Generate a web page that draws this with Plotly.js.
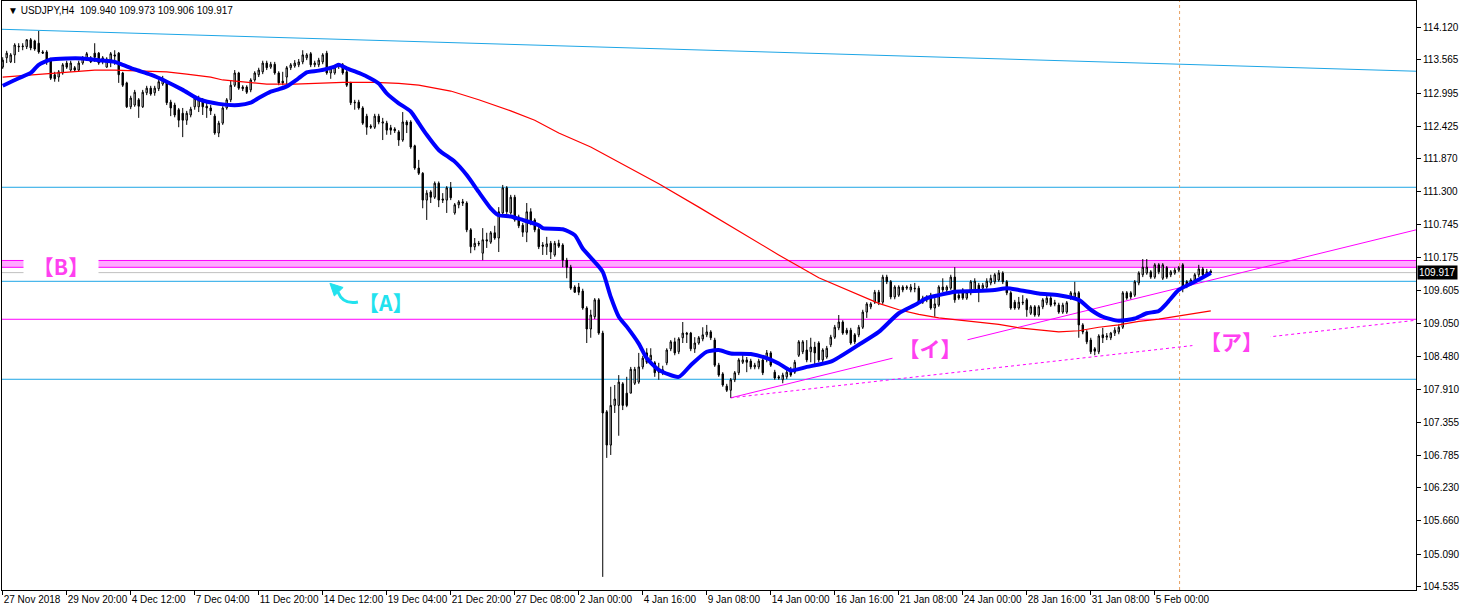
<!DOCTYPE html>
<html><head><meta charset="utf-8">
<script src="https://cdn.plot.ly/plotly-3.0.1.min.js"></script>
<style>html,body{margin:0;padding:0;background:#fff;}#chart{width:1462px;height:611px;}</style>
</head><body><div id="chart"></div>
<script>
// ---- time axis labels (every 16 H4 bars) ----
const timeLabels = ['27 Nov 2018','29 Nov 20:00','4 Dec 12:00','7 Dec 04:00','11 Dec 20:00','14 Dec 12:00','19 Dec 04:00','21 Dec 20:00','27 Dec 08:00','2 Jan 00:00','4 Jan 16:00','9 Jan 08:00','14 Jan 00:00','16 Jan 16:00','21 Jan 08:00','24 Jan 00:00','28 Jan 16:00','31 Jan 08:00','5 Feb 00:00'];
const barsPerLabel = 16;

// ---- USDJPY H4 OHLC ----
const priceOpen = [
113.44,113.60,113.53,113.65,113.80,113.79,113.79,113.91,113.89,113.85,
113.70,113.70,113.56,113.31,113.27,113.34,113.51,113.39,113.43,113.39,
113.51,113.60,113.60,113.68,113.68,113.53,113.44,113.56,113.65,113.68,
113.34,113.17,112.76,112.79,112.88,112.76,113.00,113.08,113.00,113.07,
113.15,113.17,112.84,112.79,112.71,112.65,112.53,112.62,112.76,112.76,
112.88,112.77,112.74,112.60,112.31,112.48,112.74,112.88,113.13,113.34,
113.10,113.10,113.05,113.22,113.31,113.36,113.51,113.44,113.49,113.34,
113.20,113.27,113.43,113.46,113.48,113.53,113.60,113.67,113.48,113.48,
113.53,113.68,113.34,113.34,113.46,113.48,113.36,113.17,112.84,112.84,
112.74,112.60,112.43,112.41,112.60,112.48,112.48,112.40,112.38,112.33,
112.19,112.50,112.50,112.09,111.71,111.62,111.16,111.30,111.21,111.45,
111.18,111.16,111.37,110.94,111.08,111.13,111.11,110.65,110.36,110.42,
110.25,110.48,110.44,110.60,110.51,110.94,111.37,110.94,111.21,110.87,
110.73,110.61,110.96,110.82,110.66,110.39,110.36,110.42,110.22,110.42,
110.39,110.13,110.01,109.67,109.67,109.60,109.31,108.95,109.16,109.45,
108.88,107.53,106.96,107.64,107.64,108.01,107.85,107.85,108.02,108.04,
108.30,108.54,108.42,108.37,108.23,108.21,108.37,108.61,108.73,108.56,
108.80,108.88,108.88,108.61,108.71,108.78,108.85,108.90,108.76,108.33,
108.18,107.97,107.90,108.08,108.20,108.38,108.42,108.40,108.30,108.30,
108.42,108.42,108.54,108.21,108.13,108.08,108.13,108.26,108.21,108.50,
108.56,108.59,108.56,108.64,108.71,108.42,108.47,108.68,108.81,108.97,
109.07,108.93,108.93,108.85,108.85,108.98,109.24,109.33,109.41,109.58,
109.41,109.84,109.76,109.50,109.53,109.67,109.65,109.62,109.65,109.65,
109.41,109.45,109.53,109.31,109.36,109.67,109.62,109.65,109.84,109.53,
109.62,109.48,109.57,109.62,109.70,109.65,109.67,109.74,109.76,109.79,
109.91,109.76,109.57,109.41,109.31,109.41,109.45,109.22,109.33,109.19,
109.33,109.40,109.48,109.40,109.36,109.24,109.24,109.48,109.50,109.57,
109.02,108.90,108.76,108.61,108.56,108.85,108.81,108.80,108.88,108.90,
108.98,109.57,109.57,109.53,109.74,109.88,109.91,109.93,109.84,110.05,
109.82,110.00,109.88,109.91,109.96,110.05,109.76,109.74,109.79,109.88,
109.98,109.89,109.940];
const priceHigh = [
113.61,113.72,113.68,113.85,113.85,113.85,113.92,113.94,113.91,114.06,
113.73,113.73,113.60,113.36,113.39,113.51,113.55,113.55,113.46,113.55,
113.63,113.70,113.63,113.85,113.70,113.63,113.61,113.70,113.73,113.70,
113.36,113.19,112.95,113.05,112.91,113.05,113.12,113.12,113.12,113.22,
113.29,113.20,112.88,112.83,112.74,112.74,112.69,112.76,112.95,112.95,
112.91,112.84,112.79,112.64,112.52,112.77,112.91,113.22,113.39,113.36,
113.13,113.13,113.25,113.37,113.43,113.55,113.55,113.53,113.53,113.37,
113.36,113.46,113.51,113.56,113.58,113.73,113.68,113.70,113.55,113.60,
113.68,113.72,113.46,113.48,113.51,113.51,113.39,113.19,112.88,112.88,
112.77,112.64,112.46,112.64,112.64,112.57,112.52,112.45,112.41,112.36,
112.67,112.53,112.53,112.11,111.85,111.64,111.33,111.33,111.48,111.48,
111.28,111.40,111.47,111.11,111.16,111.18,111.14,110.68,110.51,110.46,
110.68,110.60,110.63,110.72,111.04,111.42,111.40,111.25,111.25,110.91,
110.77,111.11,111.02,110.85,110.70,110.44,110.53,110.46,110.46,110.48,
110.42,110.17,110.05,109.70,109.74,109.64,109.34,109.28,109.48,109.48,
108.92,107.56,107.96,107.99,108.16,108.04,108.13,108.30,108.30,108.54,
108.49,108.62,108.62,108.40,108.37,108.32,108.62,108.76,108.80,108.81,
109.07,108.90,108.90,108.81,108.83,108.98,109.02,108.93,108.80,108.37,
108.21,108.01,108.11,108.23,108.45,108.54,108.47,108.44,108.37,108.44,
108.45,108.59,108.57,108.25,108.16,108.20,108.25,108.30,108.42,108.76,
108.76,108.76,108.80,108.73,108.74,108.62,108.66,108.85,109.02,109.19,
109.10,108.97,108.97,108.88,109.02,109.28,109.41,109.41,109.62,109.62,
109.88,109.88,109.79,109.70,109.70,109.70,109.70,109.72,109.74,109.69,
109.52,109.53,109.57,109.48,109.70,109.82,109.70,109.88,110.01,109.57,
109.65,109.62,109.79,109.82,109.74,109.74,109.82,109.88,109.91,109.96,
109.94,109.79,109.60,109.45,109.50,109.53,109.48,109.36,109.36,109.36,
109.48,109.53,109.52,109.45,109.40,109.40,109.43,109.60,109.76,109.60,
109.05,108.93,108.80,108.64,108.86,108.97,108.88,108.90,108.98,109.03,
109.60,109.60,109.60,109.79,109.94,110.15,110.15,109.96,110.08,110.08,
110.08,110.03,109.96,110.00,110.03,110.08,109.79,109.82,109.91,110.05,
110.01,109.98,109.973];
const priceLow = [
113.41,113.51,113.51,113.51,113.70,113.73,113.75,113.73,113.72,113.67,
113.67,113.48,113.22,113.19,113.19,113.31,113.41,113.36,113.36,113.36,
113.48,113.56,113.51,113.53,113.48,113.49,113.43,113.44,113.48,113.17,
113.10,112.74,112.72,112.76,112.57,112.74,112.96,112.95,112.95,113.03,
113.12,112.79,112.60,112.58,112.41,112.24,112.45,112.58,112.71,112.67,
112.62,112.57,112.62,112.28,112.24,112.45,112.71,112.84,113.10,113.05,
113.03,112.98,113.01,113.19,113.27,113.32,113.39,113.41,113.31,113.13,
113.13,113.15,113.39,113.43,113.44,113.49,113.56,113.44,113.44,113.44,
113.49,113.31,113.24,113.31,113.41,113.31,113.10,112.79,112.71,112.71,
112.45,112.28,112.38,112.38,112.46,112.19,112.28,112.28,112.31,112.09,
112.16,112.31,112.04,111.68,111.59,111.02,110.82,111.11,111.18,111.04,
111.11,110.94,111.16,110.91,111.02,111.06,110.61,110.25,110.30,110.37,
110.13,110.34,110.41,110.48,110.27,110.91,110.92,110.91,110.79,110.68,
110.53,110.44,110.73,110.61,110.32,110.22,110.22,110.15,110.19,110.34,
110.01,109.82,109.62,109.57,109.53,109.28,108.71,108.80,109.12,108.85,
104.70,106.74,106.79,107.51,107.12,107.56,107.61,107.85,107.99,108.01,
108.26,108.35,108.38,108.13,108.08,108.16,108.33,108.57,108.50,108.52,
108.71,108.71,108.57,108.54,108.68,108.74,108.81,108.76,108.30,108.13,
107.96,107.87,107.77,108.04,108.16,108.35,108.21,108.26,108.26,108.26,
108.16,108.38,108.30,108.08,108.08,108.02,108.09,108.13,108.18,108.47,
108.52,108.38,108.38,108.33,108.38,108.38,108.44,108.64,108.78,108.93,
108.85,108.85,108.68,108.69,108.81,108.95,109.14,109.29,109.38,109.36,
109.38,109.72,109.46,109.46,109.50,109.58,109.62,109.58,109.58,109.38,
109.38,109.41,109.28,109.16,109.33,109.58,109.58,109.62,109.40,109.45,
109.45,109.45,109.53,109.58,109.41,109.62,109.64,109.70,109.72,109.76,
109.72,109.53,109.28,109.28,109.28,109.36,109.16,109.19,109.16,109.16,
109.29,109.36,109.33,109.34,109.21,109.21,109.21,109.45,109.46,108.80,
108.86,108.69,108.52,108.50,108.52,108.71,108.76,108.76,108.83,108.86,
108.95,109.45,109.46,109.50,109.70,109.84,109.88,109.81,109.81,109.89,
109.79,109.81,109.84,109.88,109.93,109.58,109.65,109.70,109.76,109.84,
109.84,109.86,109.906];
const priceClose = [
113.56,113.68,113.65,113.82,113.79,113.80,113.91,113.77,113.75,113.70,
113.68,113.56,113.25,113.24,113.36,113.48,113.44,113.51,113.39,113.51,
113.60,113.67,113.53,113.61,113.51,113.60,113.58,113.67,113.63,113.31,
113.13,112.76,112.91,113.01,112.77,113.01,113.08,112.98,113.08,113.19,
113.24,112.83,112.74,112.62,112.53,112.53,112.65,112.72,112.91,112.88,
112.76,112.74,112.69,112.31,112.48,112.74,112.88,113.13,113.34,113.08,
113.07,113.01,113.22,113.34,113.39,113.51,113.43,113.49,113.34,113.17,
113.17,113.43,113.48,113.51,113.53,113.65,113.65,113.48,113.51,113.56,
113.65,113.34,113.43,113.44,113.48,113.34,113.13,112.83,112.83,112.74,
112.48,112.41,112.41,112.60,112.50,112.50,112.36,112.36,112.35,112.19,
112.50,112.45,112.07,111.71,111.62,111.16,111.28,111.21,111.45,111.16,
111.16,111.37,111.20,111.08,111.13,111.11,110.65,110.36,110.42,110.41,
110.48,110.46,110.60,110.51,110.96,111.37,110.96,111.21,110.82,110.72,
110.61,110.96,110.77,110.65,110.36,110.37,110.41,110.27,110.42,110.37,
110.13,110.01,109.65,109.58,109.58,109.31,108.95,109.19,109.45,108.88,
107.51,106.96,107.64,107.75,108.04,107.64,107.64,108.26,108.26,108.30,
108.45,108.38,108.50,108.20,108.21,108.25,108.59,108.73,108.54,108.78,
108.88,108.86,108.61,108.71,108.80,108.85,108.90,108.80,108.33,108.16,
107.99,107.90,108.08,108.20,108.42,108.42,108.38,108.30,108.33,108.40,
108.20,108.54,108.33,108.11,108.11,108.16,108.21,108.16,108.38,108.73,
108.73,108.42,108.64,108.54,108.42,108.59,108.62,108.81,108.98,109.07,
108.88,108.88,108.71,108.73,108.98,109.24,109.38,109.38,109.58,109.41,
109.84,109.76,109.50,109.67,109.67,109.62,109.67,109.67,109.64,109.41,
109.48,109.50,109.31,109.38,109.67,109.62,109.67,109.84,109.45,109.48,
109.48,109.58,109.76,109.77,109.62,109.70,109.77,109.82,109.88,109.91,
109.76,109.57,109.31,109.31,109.41,109.40,109.28,109.33,109.19,109.33,
109.45,109.48,109.36,109.38,109.24,109.36,109.40,109.57,109.57,109.02,
108.90,108.73,108.56,108.57,108.83,108.80,108.83,108.88,108.93,108.98,
109.57,109.48,109.50,109.76,109.91,110.01,110.01,109.84,110.05,109.93,
110.05,109.84,109.93,109.96,110.00,109.65,109.70,109.79,109.88,109.98,
109.88,109.93,109.917];

// ---- moving averages (sampled at bar index) ----
const maFastBar = [0,4,7,9,12,16,20,24,28,30,33,37,41,45,49,54,59,62,64,67,69,71,74,76,79,83,84,86,89,91,94,96,99,102,104,106,109,113,116,119,122,124,127,130,134,135,140,143,145,148,150,152,154,156,159,161,164,169,172,176,179,182,187,191,194,197,201,207,214,219,224,228,231,234,238,243,248,251,254,259,264,269,272,275,279,283,286,289,291,294,298,302];
const maFastVal = [113.12,113.25,113.34,113.48,113.57,113.59,113.59,113.56,113.53,113.48,113.40,113.31,113.19,113.05,112.89,112.81,112.79,112.83,112.91,113.02,113.06,113.11,113.25,113.35,113.38,113.45,113.48,113.42,113.34,113.28,113.16,112.99,112.82,112.68,112.48,112.28,112.02,111.82,111.59,111.30,111.02,110.90,110.88,110.82,110.73,110.68,110.66,110.56,110.33,110.10,109.93,109.50,109.16,108.99,108.70,108.45,108.25,108.13,108.33,108.56,108.59,108.53,108.52,108.45,108.36,108.24,108.30,108.39,108.68,108.90,109.22,109.36,109.48,109.53,109.59,109.60,109.62,109.65,109.62,109.56,109.53,109.45,109.28,109.16,109.09,109.13,109.22,109.26,109.39,109.62,109.76,109.91];
const maSlowBar = [0,8,16,23,28,34,41,46,52,55,59,66,73,78,85,93,99,104,112,119,127,133,139,147,154,164,174,184,194,204,209,214,219,224,229,234,239,244,249,254,259,264,269,274,279,284,289,294,299,302];
const maSlowVal = [113.27,113.31,113.35,113.39,113.39,113.38,113.36,113.32,113.27,113.22,113.19,113.15,113.15,113.16,113.18,113.18,113.16,113.13,113.03,112.88,112.69,112.53,112.31,112.07,111.81,111.44,111.04,110.63,110.22,109.83,109.68,109.53,109.39,109.28,109.20,109.14,109.10,109.07,109.03,108.97,108.93,108.90,108.92,108.98,109.02,109.08,109.12,109.17,109.22,109.26];

// ---- price axis ticks ----
const priceTicks = [114.120,113.565,112.995,112.425,111.870,111.300,110.745,110.175,109.605,109.050,108.480,107.910,107.355,106.785,106.230,105.660,105.090,104.535];

// ---- drawn objects (price levels / trend lines) ----
const blueLevels = [111.38, 109.768, 108.088];
const magentaLevel = 109.117;
const zoneB = [110.008, 110.125];
const bidPrice = 109.917;
const cyanTrend = {bar:[-0.7, 353.3], price:[114.09, 113.37]};
const trendI = {bar:[182, 353.3], price:[107.77, 110.65]};
const trendA = {bar:[182, 353.3], price:[107.77, 109.10]};
const cursorBar = 294.2;
const header = '\u25BC USDJPY,H4\u00a0\u00a0109.940 109.973 109.906 109.917';

// ---------------------------------------------------------------
const idx = priceOpen.map((_, i) => i);
const tickvals = timeLabels.map((_, k) => k * barsPerLabel);

const traces = [
  {type:'candlestick', x:idx, open:priceOpen, high:priceHigh, low:priceLow, close:priceClose,
   whiskerwidth:0, hoverinfo:'skip', showlegend:false,
   increasing:{line:{color:'#000', width:1}, fillcolor:'#ffffff'},
   decreasing:{line:{color:'#000', width:1}, fillcolor:'#000000'}},
  {type:'scatter', mode:'lines', x:maSlowBar, y:maSlowVal, hoverinfo:'skip', showlegend:false,
   line:{color:'#ff0000', width:1.2}},
  {type:'scatter', mode:'lines', x:maFastBar, y:maFastVal, hoverinfo:'skip', showlegend:false,
   line:{color:'#0000ff', width:4, shape:'spline', smoothing:0.6}}
];

const lightBlue = '#1ea6e6';
const magenta = '#ff00ff';
const shapes = [];
shapes.push({type:'rect', xref:'paper', x0:0, x1:1, yref:'y', y0:zoneB[0], y1:zoneB[1], fillcolor:'#ffaaff', line:{width:0}, layer:'below'});
zoneB.forEach(v => shapes.push({type:'line', xref:'paper', x0:0, x1:1, yref:'y', y0:v, y1:v, line:{color:magenta, width:1}, layer:'below'}));
shapes.push({type:'line', xref:'paper', x0:0, x1:1, yref:'y', y0:bidPrice, y1:bidPrice, line:{color:'#c0c0c0', width:1}, layer:'below'});
blueLevels.forEach(v => shapes.push({type:'line', xref:'paper', x0:0, x1:1, yref:'y', y0:v, y1:v, line:{color:lightBlue, width:1}, layer:'below'}));
shapes.push({type:'line', xref:'paper', x0:0, x1:1, yref:'y', y0:magentaLevel, y1:magentaLevel, line:{color:magenta, width:1}, layer:'below'});
shapes.push({type:'line', xref:'x', yref:'y', x0:cyanTrend.bar[0], x1:cyanTrend.bar[1], y0:cyanTrend.price[0], y1:cyanTrend.price[1], line:{color:lightBlue, width:1}, layer:'below'});
shapes.push({type:'line', xref:'x', yref:'y', x0:trendI.bar[0], x1:trendI.bar[1], y0:trendI.price[0], y1:trendI.price[1], line:{color:magenta, width:1}, layer:'below'});
shapes.push({type:'line', xref:'x', yref:'y', x0:trendA.bar[0], x1:trendA.bar[1], y0:trendA.price[0], y1:trendA.price[1], line:{color:magenta, width:1, dash:'3px,3px'}, layer:'below'});
shapes.push({type:'line', xref:'x', yref:'paper', x0:cursorBar, x1:cursorBar, y0:0, y1:1, line:{color:'#e8a060', width:1, dash:'3px,3px'}, layer:'below'});
// curved arrow next to label A
shapes.push({type:'path', xref:'x', yref:'y', path:'M 83.8 109.585 Q 85.1 109.362 88.8 109.413', line:{color:'#22e2ee', width:3}, layer:'above'});
shapes.push({type:'path', xref:'x', yref:'y', path:'M 81.8 109.734 L 85.1 109.662 L 82.9 109.516 Z', fillcolor:'#22e2ee', line:{color:'#22e2ee', width:1}, layer:'above'});

const labelFont = (c) => ({family:'Noto Sans CJK JP', size:21, color:c, weight:'bold'});
const annotations = [
  {xref:'paper', yref:'paper', x:0.003, y:0.984, xanchor:'left', yanchor:'middle', showarrow:false,
   text:header, font:{family:'Liberation Sans', size:10, color:'#000'}},
  {xref:'x', yref:'y', x:14.6, y:110.03, text:'【B】', showarrow:false, bgcolor:'#ffffff', width:74, height:22, borderpad:0, font:labelFont('#ff40f0')},
  {xref:'x', yref:'y', x:231.8, y:108.624, text:'【イ】', showarrow:false, bgcolor:'#ffffff', width:74, height:24, borderpad:0, font:labelFont('#ff40f0')},
  {xref:'x', yref:'y', x:307.1, y:108.744, text:'【ア】', showarrow:false, bgcolor:'#ffffff', width:77, height:24, borderpad:0, font:labelFont('#ff40f0')},
  {xref:'x', yref:'y', x:95.6, y:109.413, text:'【A】', showarrow:false, font:labelFont('#22e2ee')},
  {xref:'paper', yref:'y', x:1, xanchor:'left', xshift:1, y:bidPrice, yanchor:'middle', showarrow:false,
   text:bidPrice.toFixed(3), bgcolor:'#000', borderpad:1, font:{family:'Liberation Sans', size:10, color:'#fff'}}
];

const axisFont = {family:'Liberation Sans', size:10, color:'#000'};
const layout = {
  width:1462, height:611, margin:{l:2, r:46, t:1, b:21, pad:0},
  paper_bgcolor:'#ffffff', plot_bgcolor:'#ffffff', showlegend:false, boxgap:0.5,
  xaxis:{range:[-0.175, 353.3], tickmode:'array', tickvals:tickvals, ticktext:timeLabels,
    ticks:'outside', ticklen:4, tickcolor:'#000', tickwidth:1, ticklabelposition:'outside right',
    tickangle:0, automargin:false,
    showgrid:false, zeroline:false, showline:true, mirror:true, linecolor:'#000', linewidth:1,
    rangeslider:{visible:false}, tickfont:axisFont, fixedrange:true},
  yaxis:{side:'right', range:[104.475, 114.574], tickmode:'array', tickvals:priceTicks,
    ticktext:priceTicks.map(v => v.toFixed(3)), ticks:'outside', ticklen:4, tickcolor:'#000', tickwidth:1,
    automargin:false,
    showgrid:false, zeroline:false, showline:true, mirror:true, linecolor:'#000', linewidth:1,
    tickfont:axisFont, fixedrange:true},
  shapes:shapes, annotations:annotations
};

Plotly.newPlot('chart', traces, layout, {staticPlot:true, displayModeBar:false});
</script>
</body></html>
